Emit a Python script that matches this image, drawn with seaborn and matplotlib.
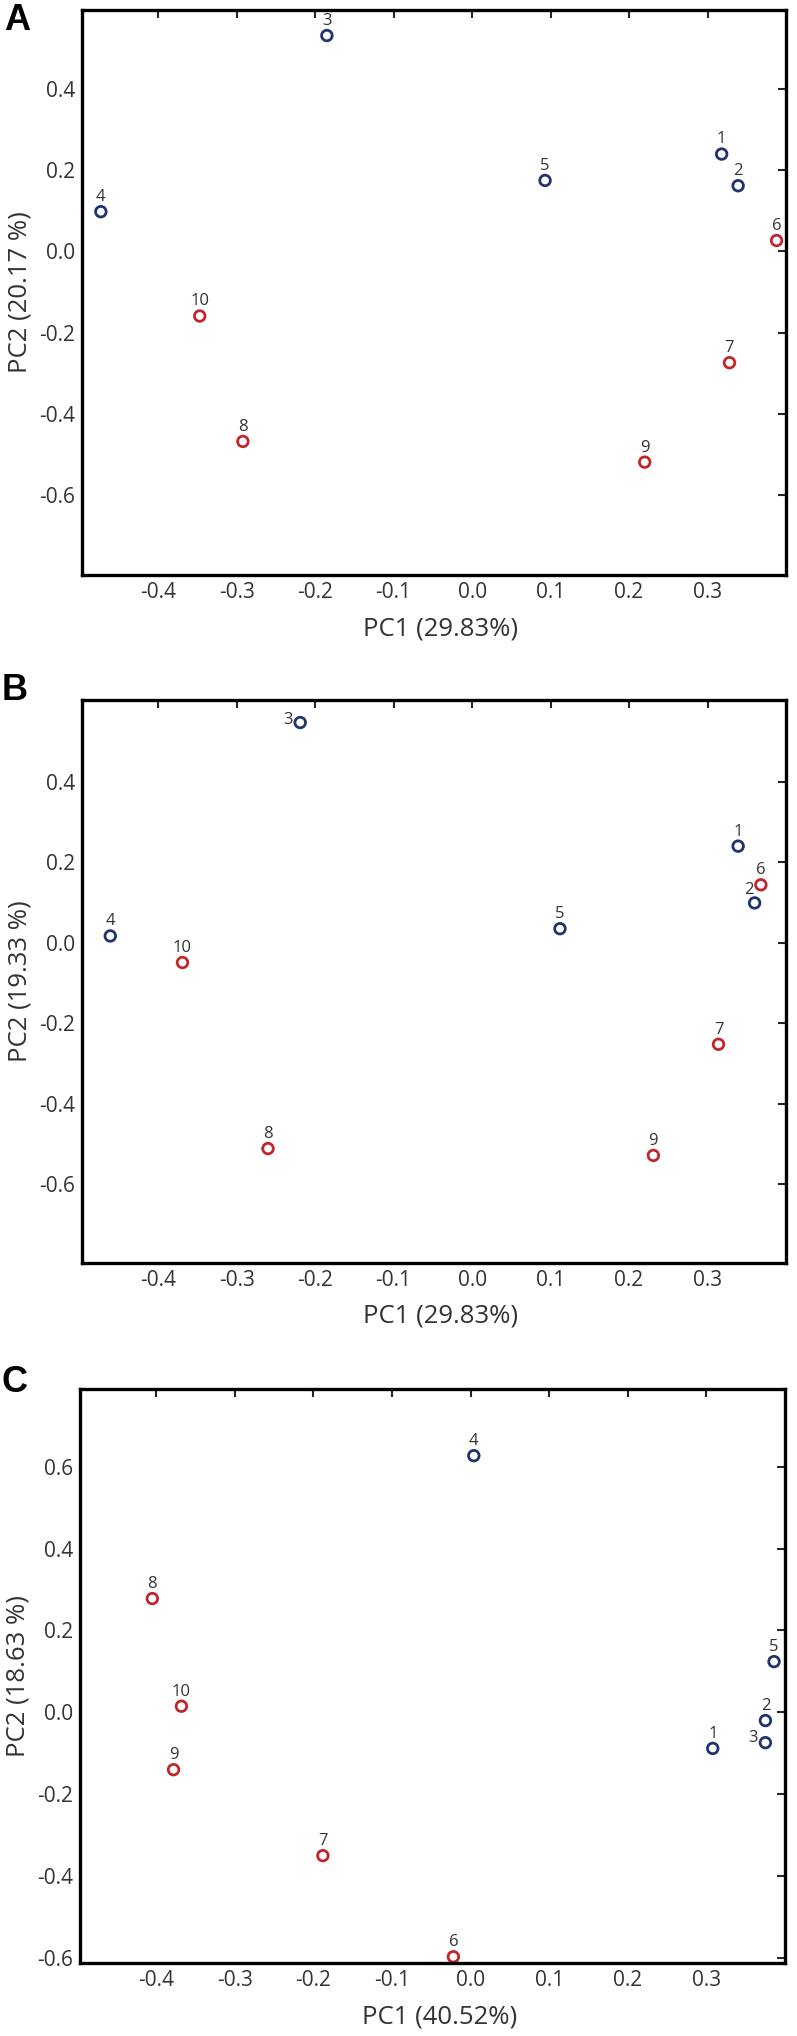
import numpy as np
import pandas as pd
import matplotlib.pyplot as plt
import seaborn as sns

# sample labels and groups (1-5 blue, 6-10 red)
sample_ids = ["1", "2", "3", "4", "5", "6", "7", "8", "9", "10"]
groups = ["g1"] * 5 + ["g2"] * 5

# panel A scores
pc1_a = [0.318, 0.339, -0.185, -0.473, 0.093, 0.388, 0.328, -0.292, 0.220, -0.347]
pc2_a = [0.240, 0.162, 0.532, 0.098, 0.175, 0.027, -0.274, -0.468, -0.519, -0.159]

# panel B scores
pc1_b = [0.339, 0.360, -0.219, -0.461, 0.112, 0.368, 0.314, -0.260, 0.231, -0.369]
pc2_b = [0.240, 0.099, 0.547, 0.017, 0.035, 0.144, -0.252, -0.511, -0.528, -0.049]

# panel C scores
pc1_c = [0.308, 0.375, 0.375, 0.004, 0.386, -0.022, -0.188, -0.405, -0.378, -0.368]
pc2_c = [-0.088, -0.020, -0.074, 0.627, 0.124, -0.597, -0.350, 0.278, -0.140, 0.015]

# tick positions
x_ticks = [-0.4, -0.3, -0.2, -0.1, 0.0, 0.1, 0.2, 0.3]
y_ticks_ab = [-0.6, -0.4, -0.2, 0.0, 0.2, 0.4]
y_ticks_c = [-0.6, -0.4, -0.2, 0.0, 0.2, 0.4, 0.6]

palette = {"g1": "#22336e", "g2": "#c0272d"}
text_col = "#333333"

sns.set_style("white")
plt.rcParams['font.family'] = ['Open Sans', 'DejaVu Sans']
plt.rcParams['axes.unicode_minus'] = False

fig = plt.figure(figsize=(7.97, 20.36), dpi=100)

panels = [
    # letter, x, y, xlabel, ylabel, axes rect, ylim, yticks, label offsets
    ("A", pc1_a, pc2_a, "PC1 (29.83%)", "PC2 (20.17 %)",
     [0.1029, 0.7176, 0.8833, 0.2775], (-0.797, 0.595), y_ticks_ab, {}),
    ("B", pc1_b, pc2_b, "PC1 (29.83%)", "PC2 (19.33 %)",
     [0.1029, 0.3797, 0.8833, 0.2765], (-0.795, 0.603), y_ticks_ab,
     {"3": (-9, 2), "2": (-4, 9)}),
    ("C", pc1_c, pc2_c, "PC1 (40.52%)", "PC2 (18.63 %)",
     [0.1004, 0.0359, 0.8846, 0.2819], (-0.612, 0.79), y_ticks_c,
     {"3": (-9, 3)}),
]
letter_pos = {"A": (17, 20), "B": (15, 690), "C": (15, 1383)}

for letter, xs, ys, xl, yl, rect, ylim, yticks, offsets in panels:
    ax = fig.add_axes(rect)
    df = pd.DataFrame({"pc1": xs, "pc2": ys, "group": groups, "sample": sample_ids})
    sns.scatterplot(data=df, x="pc1", y="pc2", hue="group", palette=palette,
                    s=58, linewidth=2.0, legend=False, ax=ax)
    # hollow markers
    coll = ax.collections[-1]
    coll.set_edgecolors(coll.get_facecolors())
    coll.set_facecolors("none")

    for _, row in df.iterrows():
        off = offsets.get(row["sample"], (0, 10.5))
        ax.annotate(row["sample"], (row["pc1"], row["pc2"]), xytext=off,
                    textcoords="offset points", ha="center", va="center",
                    fontsize=12, color=text_col)

    ax.set_xlim(-0.497, 0.40)
    ax.set_ylim(*ylim)
    ax.set_xticks(x_ticks)
    ax.set_yticks(yticks)
    ax.set_xticklabels([f"{v:.1f}" for v in x_ticks])
    ax.set_yticklabels([f"{v:.1f}" for v in yticks])
    ax.tick_params(direction="in", length=6, width=1.5, top=True, right=True,
                   labelsize=15, labelcolor=text_col, pad=5)
    for sp in ax.spines.values():
        sp.set_linewidth(2.4)
        sp.set_color("black")

    ax.set_xlabel(xl, fontsize=18.5, color=text_col)
    ax.set_ylabel(yl, fontsize=18.5, color=text_col)
    ax.xaxis.set_label_coords(0.51, -0.095)
    ax.xaxis.label.set_va("center")
    ax.yaxis.set_label_coords(-0.088, 0.5)
    ax.yaxis.label.set_va("center")

    px, py = letter_pos[letter]
    fig.text(px / 797, 1 - py / 2036, letter, ha="center", va="center",
             fontsize=26, fontweight="bold", family="Liberation Sans", color="black")

fig.savefig("out.png", dpi=100)
